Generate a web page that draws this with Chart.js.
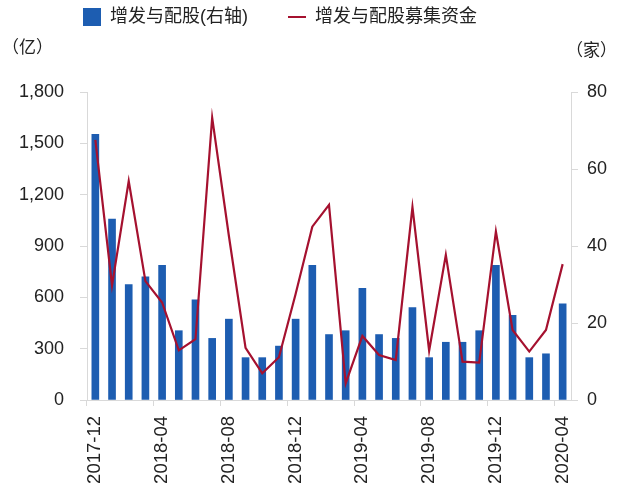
<!DOCTYPE html>
<html>
<head>
<meta charset="utf-8">
<script src="https://cdn.jsdelivr.net/npm/chart.js@4"></script>
<style>
  html, body { margin: 0; padding: 0; background: #ffffff; }
  #wrap { width: 640px; height: 497px; }
</style>
</head>
<body>
<div id="wrap"><canvas id="chartCanvas"></canvas></div>
<script>
const months = [
    "2017-12", "2018-01", "2018-02", "2018-03", "2018-04", "2018-05", "2018-06", "2018-07",
    "2018-08", "2018-09", "2018-10", "2018-11", "2018-12", "2019-01", "2019-02", "2019-03",
    "2019-04", "2019-05", "2019-06", "2019-07", "2019-08", "2019-09", "2019-10", "2019-11",
    "2019-12", "2020-01", "2020-02", "2020-03", "2020-04"
];
// 家数 (右轴)
const companyCount = [69, 47, 30, 32, 35, 18, 26, 16, 21, 11, 11, 14, 21, 35, 17, 18,
    29, 17, 16, 24, 11, 15, 15, 18, 35, 22, 11, 12, 25];
// 募集资金 (亿)
const fundsRaised = [1520, 670, 1280, 695, 570, 290, 355, 1650, 960, 305, 156, 250, 620, 1013, 1140, 97,
    374, 263, 234, 1127, 288, 848, 224, 218, 985, 409, 283, 409, 794];
const leftTicks = [0, 1800, 300];
const rightTicks = [0, 80, 20];

const fontNum = "'Liberation Sans', Arial, sans-serif";
const fontCjk = "'Liberation Sans', 'Noto Sans CJK SC', sans-serif";
const axisGray = "#d9d9d9";

// units above the two value axes, and legend nudged to the top-left
const unitLabels = {
    id: "unitLabels",
    afterLayout(chart) {
        if (chart.legend) {
            chart.legend.top = -32;
            chart.legend.left = 43;
        }
    },
    afterDraw(chart) {
        const c = chart.ctx;
        c.save();
        c.font = "17px 'Noto Sans CJK SC', sans-serif";
        c.fillStyle = "#222";
        c.textBaseline = "middle";
        c.textAlign = "left";
        c.fillText("（亿）", 2, 47);
        c.fillText("（家）", 566, 50);
        c.restore();
    }
};

new Chart(document.getElementById("chartCanvas"), {
    type: "bar",
    data: {
        labels: months,
        datasets: [{
            label: "增发与配股(右轴)",
            data: companyCount,
            yAxisID: "y1",
            backgroundColor: "#1d5db1",
            barThickness: 7,
            order: 1
        }, {
            type: "line",
            label: "增发与配股募集资金",
            data: fundsRaised,
            yAxisID: "y",
            borderColor: "#a5112f",
            backgroundColor: "#a5112f",
            borderWidth: 2.2,
            pointRadius: 0,
            tension: 0,
            order: 0
        }]
    },
    options: {
        responsive: true,
        maintainAspectRatio: false,
        animation: false,
        layout: { padding: { top: 24, left: 0, right: 0, bottom: 0 } },
        plugins: {
            tooltip: { enabled: false },
            legend: {
                position: "top",
                align: "start",
                labels: {
                    color: "#222",
                    font: { family: fontCjk, size: 18 },
                    usePointStyle: true,
                    pointStyleWidth: 18,
                    padding: 40,
                    sort: function (a, b) { return a.datasetIndex - b.datasetIndex; },
                    generateLabels(chart) {
                        const items = Chart.defaults.plugins.legend.labels.generateLabels(chart);
                        items.forEach(function (it) {
                            it.pointStyle = it.datasetIndex === 0 ? "rect" : "line";
                            it.lineWidth = it.datasetIndex === 0 ? 0 : 2;
                        });
                        return items;
                    }
                }
            }
        },
        scales: {
            x: {
                offset: true,
                border: { color: axisGray },
                grid: {
                    offset: true,
                    drawOnChartArea: false,
                    tickLength: 6,
                    color: function (ctx) { return ctx.index % 4 === 0 ? axisGray : "transparent"; }
                },
                ticks: {
                    autoSkip: false,
                    maxRotation: 90,
                    minRotation: 90,
                    padding: 10,
                    color: "#222",
                    font: { family: fontNum, size: 18.5 },
                    callback: function (v, i) { return i % 4 === 0 ? months[i] : ""; }
                },
                afterFit: function (s) { s.height = 97; }
            },
            y: {
                position: "left",
                min: leftTicks[0],
                max: leftTicks[1],
                border: { color: axisGray },
                grid: { drawOnChartArea: false, tickLength: 7, color: axisGray },
                ticks: {
                    stepSize: leftTicks[2],
                    padding: 16,
                    color: "#222",
                    font: { family: fontNum, size: 18 }
                },
                afterFit: function (s) { s.width = 87; }
            },
            y1: {
                position: "right",
                min: rightTicks[0],
                max: rightTicks[1],
                border: { color: axisGray },
                grid: { drawOnChartArea: false, tickLength: 7, color: axisGray },
                ticks: {
                    stepSize: rightTicks[2],
                    padding: 9,
                    color: "#222",
                    font: { family: fontNum, size: 18 }
                },
                afterFit: function (s) { s.width = 69; }
            }
        }
    },
    plugins: [unitLabels]
});
</script>
</body>
</html>
